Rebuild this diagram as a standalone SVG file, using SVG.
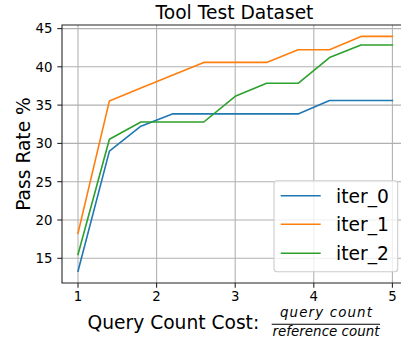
<svg xmlns="http://www.w3.org/2000/svg" width="401" height="340" viewBox="0 0 401 340">
<style>
text{font-family:"DejaVu Sans","Liberation Sans",sans-serif;fill:#000}
.tick{font-size:13.3px}
.big{font-size:18.67px}
.grid line{stroke:#b0b0b0;stroke-width:1.07}
.series{fill:none;stroke-width:1.6;stroke-linejoin:round;stroke-linecap:square}
.spine{stroke:#222;stroke-width:1.07;fill:none}
.tk line{stroke:#222;stroke-width:1.07}
</style>
<defs>
<clipPath id="plot"><rect x="62" y="25" width="346" height="258"/></clipPath>
</defs>
<rect width="401" height="340" fill="#fff"/>
<text class="big" x="234.5" y="19" text-anchor="middle">Tool Test Dataset</text>
<g class="grid" id="grid">
<line x1="78" y1="25" x2="78" y2="283"/>
<line x1="156.6" y1="25" x2="156.6" y2="283"/>
<line x1="235.2" y1="25" x2="235.2" y2="283"/>
<line x1="313.8" y1="25" x2="313.8" y2="283"/>
<line x1="392.4" y1="25" x2="392.4" y2="283"/>
<line x1="62" y1="258.3" x2="408" y2="258.3"/>
<line x1="62" y1="220" x2="408" y2="220"/>
<line x1="62" y1="181.7" x2="408" y2="181.7"/>
<line x1="62" y1="143.4" x2="408" y2="143.4"/>
<line x1="62" y1="105.1" x2="408" y2="105.1"/>
<line x1="62" y1="66.8" x2="408" y2="66.8"/>
<line x1="62" y1="28.6" x2="408" y2="28.6"/>
</g>
<g id="connectors" clip-path="url(#plot)">
<polyline id="iter_0" class="series" stroke="#1f77b4" points="78,271.3 109.4,151.1 140.9,126.2 172.3,113.9 203.8,113.9 235.2,113.9 266.6,113.9 298.1,113.9 329.5,100.5 361,100.5 392.4,100.5"/>
<polyline id="iter_1" class="series" stroke="#ff7f0e" points="78,233.3 109.4,100.9 140.9,88.1 172.3,75.3 203.8,62.4 235.2,62.4 266.6,62.4 298.1,49.7 329.5,49.7 361,36.4 392.4,36.4"/>
<polyline id="iter_2" class="series" stroke="#2ca02c" points="78,254.4 109.4,139.2 140.9,122 172.3,122 203.8,122 235.2,96.3 266.6,83.3 298.1,83.3 329.5,57.6 361,45 392.4,45"/>
</g>
<g id="axes">
<polyline class="spine" points="408,25 62,25 62,283 408,283"/>
<g class="tk">
<line x1="78" y1="283" x2="78" y2="287.7"/>
<line x1="156.6" y1="283" x2="156.6" y2="287.7"/>
<line x1="235.2" y1="283" x2="235.2" y2="287.7"/>
<line x1="313.8" y1="283" x2="313.8" y2="287.7"/>
<line x1="392.4" y1="283" x2="392.4" y2="287.7"/>
<line x1="57.3" y1="258.3" x2="62" y2="258.3"/>
<line x1="57.3" y1="220" x2="62" y2="220"/>
<line x1="57.3" y1="181.7" x2="62" y2="181.7"/>
<line x1="57.3" y1="143.4" x2="62" y2="143.4"/>
<line x1="57.3" y1="105.1" x2="62" y2="105.1"/>
<line x1="57.3" y1="66.8" x2="62" y2="66.8"/>
<line x1="57.3" y1="28.6" x2="62" y2="28.6"/>
</g>
<g class="tick" text-anchor="middle">
<text x="78" y="300.7">1</text>
<text x="156.6" y="300.7">2</text>
<text x="235.2" y="300.7">3</text>
<text x="313.8" y="300.7">4</text>
<text x="392.4" y="300.7">5</text>
</g>
<g class="tick" text-anchor="end">
<text x="52.5" y="263.1">15</text>
<text x="52.5" y="224.8">20</text>
<text x="52.5" y="186.5">25</text>
<text x="52.5" y="148.2">30</text>
<text x="52.5" y="109.9">35</text>
<text x="52.5" y="71.6">40</text>
<text x="52.5" y="33.4">45</text>
</g>
<text class="big" transform="translate(30,154) rotate(-90)" text-anchor="middle">Pass Rate %</text>
<text class="big" x="87.5" y="329">Query Count Cost:</text>
<text x="326" y="317" text-anchor="middle" font-style="italic" font-size="13.4" textLength="92" lengthAdjust="spacing">query count</text>
<line x1="271.7" y1="324.3" x2="380" y2="324.3" stroke="#000" stroke-width="1.1"/>
<text x="326" y="336" text-anchor="middle" font-style="italic" font-size="13.4" textLength="107" lengthAdjust="spacing">reference count</text>
</g>
<g id="legend">
<rect x="274" y="180.7" width="123.7" height="91" rx="3" fill="#fff" fill-opacity="0.8" stroke="#cccccc" stroke-width="1.07"/>
<line x1="280.7" y1="195.7" x2="320.7" y2="195.7" stroke="#1f77b4" stroke-width="1.6"/>
<text class="big" x="336" y="202.5">iter_0</text>
<line x1="280.7" y1="224.3" x2="320.7" y2="224.3" stroke="#ff7f0e" stroke-width="1.6"/>
<text class="big" x="336" y="231.1">iter_1</text>
<line x1="280.7" y1="253.3" x2="320.7" y2="253.3" stroke="#2ca02c" stroke-width="1.6"/>
<text class="big" x="336" y="260.1">iter_2</text>
</g>
</svg>
